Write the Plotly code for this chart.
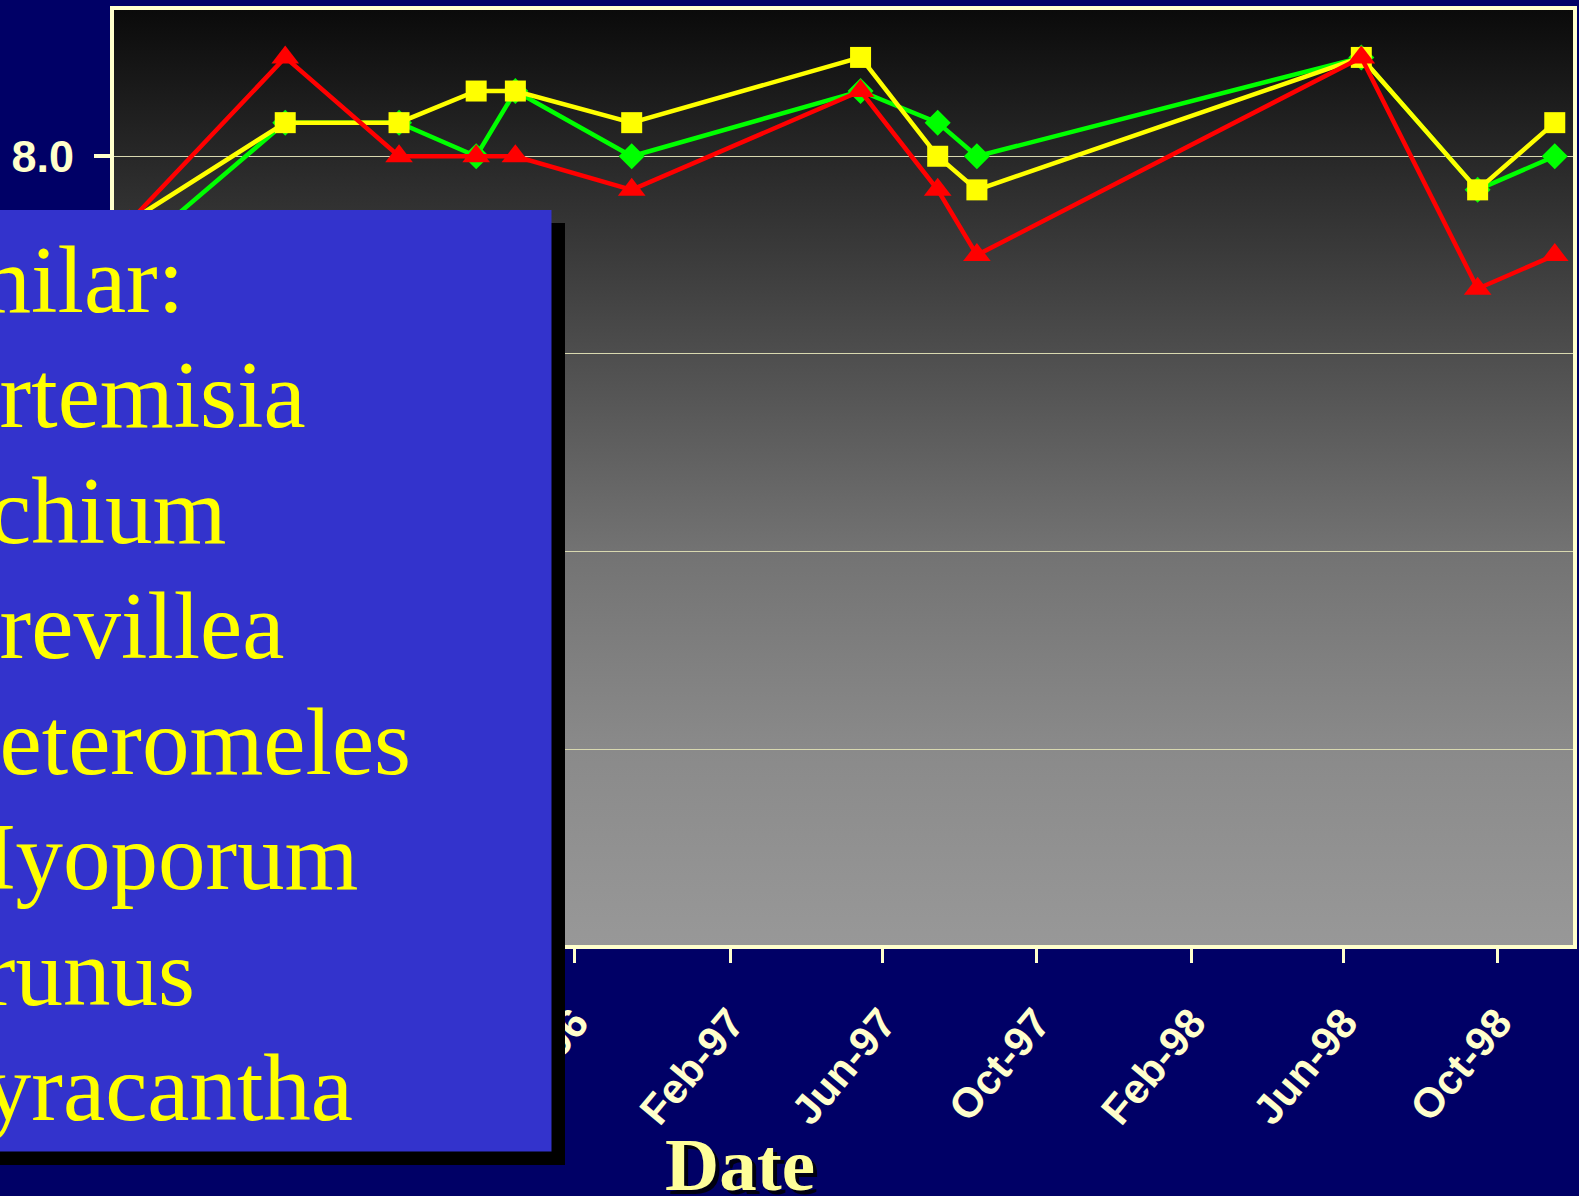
import base64
import plotly.graph_objects as go

# Sampling dates (mid-month) and the three rating series
dates = ["1995-10-15", "1996-02-15", "1996-05-15", "1996-07-15", "1996-08-15",
         "1996-11-15", "1997-05-15", "1997-07-15", "1997-08-15", "1998-06-15",
         "1998-09-15", "1998-11-15"]
green_vals = [7.5, 8.17, 8.17, 8.0, 8.33, 8.0, 8.33, 8.17, 8.0, 8.5, 7.83, 8.0]
yellow_vals = [7.67, 8.17, 8.17, 8.33, 8.33, 8.17, 8.5, 8.0, 7.83, 8.5, 7.83, 8.17]
red_vals = [7.67, 8.5, 8.0, 8.0, 8.0, 7.83, 8.33, 7.83, 7.5, 8.5, 7.33, 7.5]

x_range = ["1995-10-01", "1998-12-01"]
y_range = [4.0, 8.75]

heading = "Similar:"
plants = ["Artemisia", "Echium", "Grevillea", "Heteromeles", "Myoporum",
          "Prunus", "Pyracantha"]
x_title = "Date"

# page geometry (pixels)
W, H = 1579, 1196
ML, MR, MT, MB = 112, 4, 8, 249
PW, PH = W - ML - MR, H - MT - MB


def fx(px):
    return (px - ML) / PW


def fy(py):
    return 1 - (py - MT) / PH


NAVY = "#000066"
CREAM = "#FFFFCC"

fig = go.Figure()

fig.add_trace(go.Scatter(
    x=dates, y=green_vals, mode="lines+markers", name="diamonds",
    line=dict(color="#00FF00", width=4.5),
    marker=dict(symbol="diamond", size=20, color="#00FF00"),
))
fig.add_trace(go.Scatter(
    x=dates, y=yellow_vals, mode="lines+markers", name="squares",
    line=dict(color="#FFFF00", width=4.5),
    marker=dict(symbol="square", size=21, color="#FFFF00"),
))
fig.add_trace(go.Scatter(
    x=dates, y=red_vals, mode="lines+markers", name="triangles",
    line=dict(color="#FF0000", width=4.5),
    marker=dict(symbol="triangle-up", size=24, color="#FF0000"),
))

# smooth black-to-grey fill of the plot area, drawn as an SVG gradient image
stops = [(0.0, 10), (0.16, 40), (0.37, 78), (0.58, 115), (0.79, 138), (1.0, 152)]
stop_xml = "".join(
    f'<stop offset="{o}" stop-color="rgb({v},{v},{v})"/>' for o, v in stops)
svg = ('<svg xmlns="http://www.w3.org/2000/svg" width="10" height="100" '
       'preserveAspectRatio="none"><defs><linearGradient id="g" x1="0" y1="0" '
       f'x2="0" y2="1">{stop_xml}</linearGradient></defs>'
       '<rect width="10" height="100" fill="url(#g)"/></svg>')
grad_src = "data:image/svg+xml;base64," + base64.b64encode(svg.encode()).decode()

shapes = [
    # plot frame
    dict(type="rect", xref="paper", yref="paper", layer="above",
         x0=0, x1=1, y0=0, y1=1, line=dict(color=CREAM, width=4)),
    # text panel drop shadow
    dict(type="rect", xref="paper", yref="paper", layer="above",
         x0=fx(-40), x1=fx(565), y0=fy(1165), y1=fy(223),
         line=dict(width=0), fillcolor="#000000"),
    # text panel
    dict(type="rect", xref="paper", yref="paper", layer="above",
         x0=fx(-40), x1=fx(551.5), y0=fy(1151.5), y1=fy(210),
         line=dict(width=0), fillcolor="#3333CC"),
]

annotations = []
FS = 95
serif = "Liberation Serif, Times New Roman, serif"


def mid_from_baseline(base, size):
    return base - 0.3375 * size


annotations.append(dict(
    text=heading, xref="paper", yref="paper", showarrow=False,
    x=fx(-124), y=fy(mid_from_baseline(311.7, FS)),
    xanchor="left", yanchor="middle",
    font=dict(family=serif, size=FS, color="#FFFF00"),
))
for k, name in enumerate(plants):
    annotations.append(dict(
        text=name, xref="paper", yref="paper", showarrow=False,
        x=fx(-71), y=fy(mid_from_baseline(427.5 + 115.5 * k, FS)),
        xanchor="left", yanchor="middle",
        font=dict(family=serif, size=FS, color="#FFFF00"),
    ))

# axis title with a dark drop shadow
TS = 75
for dx, col in ((4, "#000010"), (0, "#FFFF99")):
    annotations.append(dict(
        text=f"<b>{x_title}</b>", xref="paper", yref="paper", showarrow=False,
        x=fx(740 + dx), y=fy(mid_from_baseline(1190, TS) + dx),
        xanchor="center", yanchor="middle",
        font=dict(family=serif, size=TS, color=col),
    ))

fig.update_layout(
    width=W, height=H,
    margin=dict(l=ML, r=MR, t=MT, b=MB, pad=0),
    paper_bgcolor=NAVY, plot_bgcolor="#555555",
    showlegend=False,
    shapes=shapes,
    annotations=annotations,
    images=[dict(source=grad_src, xref="paper", yref="paper", x=0, y=1,
                 sizex=1, sizey=1, xanchor="left", yanchor="top",
                 sizing="stretch", layer="below")],
)

fig.update_xaxes(
    type="date", range=x_range,
    tick0="1995-10-01", dtick="M4", tickformat="%b-%y",
    tickangle=-50,
    tickfont=dict(family="Liberation Sans, Arial, sans-serif", size=42,
                  color=CREAM, weight="bold"),
    ticks="outside", ticklen=15, tickwidth=3, tickcolor=CREAM,
    ticklabelstandoff=18,
    showgrid=False, zeroline=False, showline=False,
)
fig.update_yaxes(
    range=y_range, dtick=1, tickformat=".1f",
    tickfont=dict(family="Liberation Sans, Arial, sans-serif", size=45,
                  color=CREAM, weight="bold"),
    ticks="outside", ticklen=17, tickwidth=4, tickcolor=CREAM,
    ticklabelstandoff=11,
    showgrid=True, gridcolor="#D9D9B0", gridwidth=1,
    zeroline=False, showline=False,
)

fig.write_html("out.html", post_script="document.body.style.margin='0';")
